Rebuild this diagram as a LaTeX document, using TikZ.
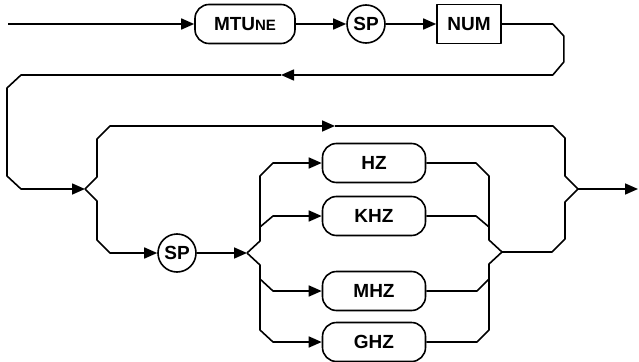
\documentclass[tikz,border=0pt]{standalone}
\usepackage{fontspec}
\setmainfont{Liberation Sans}
\usetikzlibrary{arrows.meta}

\begin{document}
\begin{tikzpicture}[x=1pt, y=-1pt, line width=1.6pt, line join=round,
  tip/.style={-{Triangle[length=13pt,width=11pt]}},
  keyfont/.style={font=\fontsize{19}{19}\selectfont\bfseries},
  pill/.style={draw, keyfont, rounded corners=14pt, minimum width=103pt,
    minimum height=39pt, inner sep=0pt},
  keybox/.style={draw, keyfont, minimum width=64pt, minimum height=39pt, inner sep=0pt},
  disc/.style={draw, keyfont, circle, minimum size=38pt, inner sep=0pt}]
  \useasboundingbox (0,0) rectangle (639,361);
  \coordinate (start) at (8,24);
  \node[pill, minimum width=100pt] (mtune) at (245,24) {MTU{\fontsize{15}{15}\selectfont NE}};
  \node[disc] (sp1) at (366,24) {SP};
  \node[keybox] (num) at (469,24) {NUM};
  \coordinate (back) at (281,75);
  \coordinate (j1) at (85,189);
  \coordinate (skip) at (335,126);
  \node[disc] (sp2) at (177,253) {SP};
  \coordinate (j2) at (247,253);
  \node[pill] (hz) at (374,163) {HZ};
  \node[pill] (khz) at (374,216) {KHZ};
  \node[pill] (mhz) at (374,291) {MHZ};
  \node[pill] (ghz) at (374,342) {GHZ};
  \coordinate (kb) at (260,227);
  \coordinate (mb) at (260,279);
  \coordinate (j4) at (502,252);
  \coordinate (j3) at (578,189);
  \coordinate (out) at (638,189);
  % main row
  \draw[tip] (start) -- (mtune);
  \draw[tip] (mtune) -- (sp1);
  \draw[tip] (sp1) -- (num);
  % return loop
  \draw[tip] (num.east) -- ++(51,0) -- ++(11,12) -- ++(0,26) -- ++(-11,13) -- (back);
  \draw[tip] (back) -- (21,75) -- ++(-14,13) -- ++(0,88) -- ++(14,13) -- (j1);
  % no unit
  \draw[tip] (j1) -- ++(12,-12) -- ++(0,-38) -- ++(13,-13) -- (skip);
  \draw (skip) -- (553,126) -- ++(12,12) -- ++(0,38) -- (j3);
  % with unit
  \draw[tip] (j1) -- ++(12,12) -- ++(0,39) -- ++(13,13) -- (sp2);
  \draw[tip] (sp2) -- (j2);
  \draw[tip] (j2) -- ++(13,-12) -- ++(0,-65) -- ++(13,-13) -- (hz);
  \draw[tip] (kb) -- ++(13,-11) -- (khz);
  \draw[tip] (mb) -- ++(13,12) -- (mhz);
  \draw[tip] (j2) -- ++(13,12) -- ++(0,65) -- ++(13,12) -- (ghz);
  \draw (hz.east) -- (476,163) -- ++(13,13) -- ++(0,64) -- (j4);
  \draw (khz.east) -- (476,216) -- ++(13,11);
  \draw (mhz.east) -- (477,291) -- ++(12,-12);
  \draw (ghz.east) -- (477,342) -- ++(12,-12) -- ++(0,-66) -- (j4);
  \draw (j4) -- ++(50,0) -- ++(13,-13) -- ++(0,-37) -- (j3);
  \draw[tip] (j3) -- (out);
\end{tikzpicture}
\end{document}
